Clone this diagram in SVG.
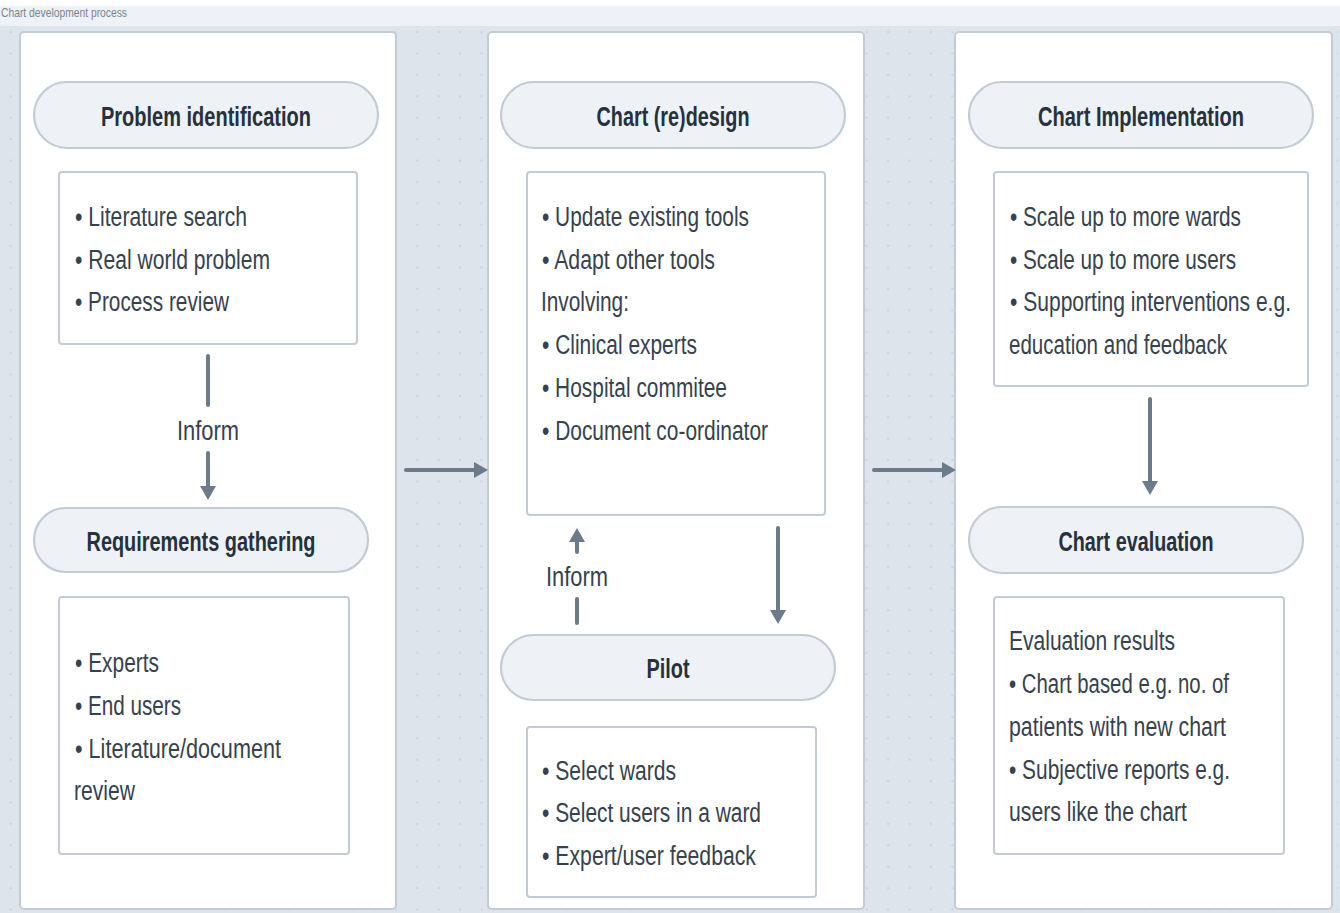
<svg xmlns="http://www.w3.org/2000/svg" width="1340" height="913" viewBox="0 0 1340 913">
<defs>
<pattern id="dots" x="0" y="0" width="21.4" height="21.4" patternUnits="userSpaceOnUse">
<rect x="10" y="10" width="1.4" height="1.4" fill="#b9c3ce"/>
</pattern>
<marker id="ah" viewBox="0 0 14 16" refX="2" refY="8" markerWidth="14" markerHeight="16" markerUnits="userSpaceOnUse" orient="auto">
<path d="M0,0 L14,8 L0,16 z" fill="#6b7b8a"/>
</marker>
<style>
.panel{fill:#ffffff;stroke:#c3ccd6;stroke-width:2}
.pill{fill:#eef2f6;stroke:#c3ccd6;stroke-width:2.2}
.box{fill:#ffffff;stroke:#c3ccd6;stroke-width:2}
.t{font-family:"Liberation Sans Narrow","Liberation Sans",Arial,sans-serif;font-size:27px;fill:#36424d}
.h{font-family:"Liberation Sans Narrow","Liberation Sans",Arial,sans-serif;font-size:27px;font-weight:bold;fill:#25313c;text-anchor:middle}
.c{stroke:#6b7b8a;stroke-width:4;stroke-linecap:round;fill:none}
</style>
</defs>
<rect x="0" y="0" width="1340" height="913" fill="#dee4eb"/>
<rect x="0" y="0" width="1340" height="913" fill="url(#dots)"/>
<rect x="0" y="0" width="1340" height="6" fill="#ffffff"/>
<rect x="0" y="6" width="1340" height="20" fill="#eef1f5"/>
<text x="1" y="17" font-family="Liberation Sans Narrow,Liberation Sans,Arial,sans-serif" font-size="13" fill="#7a8590" textLength="126" lengthAdjust="spacingAndGlyphs">Chart development process</text>

<g id="panel1"><rect class="panel" x="20" y="32" width="376" height="877" rx="4"/></g>
<g id="panel2"><rect class="panel" x="488" y="32" width="376" height="877" rx="4"/></g>
<g id="panel3"><rect class="panel" x="955" y="32" width="377" height="877" rx="4"/></g>

<g id="problem-identification">
<rect class="pill" x="34" y="82" width="344" height="66" rx="33"/>
<text class="h" x="206" y="126" textLength="210" lengthAdjust="spacingAndGlyphs">Problem identification</text>
</g>
<g id="problem-box">
<rect class="box" x="59" y="172" width="298" height="172" rx="3"/>
<text class="t" x="75" y="226" textLength="172" lengthAdjust="spacingAndGlyphs">• Literature search</text>
<text class="t" x="75" y="269" textLength="195" lengthAdjust="spacingAndGlyphs">• Real world problem</text>
<text class="t" x="75" y="311" textLength="154" lengthAdjust="spacingAndGlyphs">• Process review</text>
</g>
<g id="requirements-gathering">
<rect class="pill" x="34" y="508" width="334" height="64" rx="32"/>
<text class="h" x="201" y="551" textLength="229" lengthAdjust="spacingAndGlyphs">Requirements gathering</text>
</g>
<g id="requirements-box">
<rect class="box" x="59" y="597" width="290" height="257" rx="3"/>
<text class="t" x="75" y="672" textLength="84" lengthAdjust="spacingAndGlyphs">• Experts</text>
<text class="t" x="75" y="715" textLength="106" lengthAdjust="spacingAndGlyphs">• End users</text>
<text class="t" x="75" y="758" textLength="206" lengthAdjust="spacingAndGlyphs">• Literature/document</text>
<text class="t" x="74" y="800" textLength="61" lengthAdjust="spacingAndGlyphs">review</text>
</g>

<g id="chart-redesign">
<rect class="pill" x="501" y="82" width="344" height="66" rx="33"/>
<text class="h" x="673" y="126" textLength="153" lengthAdjust="spacingAndGlyphs">Chart (re)design</text>
</g>
<g id="redesign-box">
<rect class="box" x="527" y="172" width="298" height="343" rx="3"/>
<text class="t" x="542" y="226" textLength="207" lengthAdjust="spacingAndGlyphs">• Update existing tools</text>
<text class="t" x="542" y="269" textLength="173" lengthAdjust="spacingAndGlyphs">• Adapt other tools</text>
<text class="t" x="541" y="311" textLength="88" lengthAdjust="spacingAndGlyphs">Involving:</text>
<text class="t" x="542" y="354" textLength="155" lengthAdjust="spacingAndGlyphs">• Clinical experts</text>
<text class="t" x="542" y="397" textLength="185" lengthAdjust="spacingAndGlyphs">• Hospital commitee</text>
<text class="t" x="542" y="440" textLength="226" lengthAdjust="spacingAndGlyphs">• Document co-ordinator</text>
</g>
<g id="pilot">
<rect class="pill" x="501" y="635" width="334" height="65" rx="32.5"/>
<text class="h" x="668" y="678" textLength="43" lengthAdjust="spacingAndGlyphs">Pilot</text>
</g>
<g id="pilot-box">
<rect class="box" x="527" y="727" width="289" height="170" rx="3"/>
<text class="t" x="542" y="780" textLength="134" lengthAdjust="spacingAndGlyphs">• Select wards</text>
<text class="t" x="542" y="822" textLength="219" lengthAdjust="spacingAndGlyphs">• Select users in a ward</text>
<text class="t" x="542" y="865" textLength="214" lengthAdjust="spacingAndGlyphs">• Expert/user feedback</text>
</g>

<g id="chart-implementation">
<rect class="pill" x="969" y="82" width="344" height="66" rx="33"/>
<text class="h" x="1141" y="126" textLength="206" lengthAdjust="spacingAndGlyphs">Chart Implementation</text>
</g>
<g id="implementation-box">
<rect class="box" x="994" y="172" width="314" height="214" rx="3"/>
<text class="t" x="1010" y="226" textLength="231" lengthAdjust="spacingAndGlyphs">• Scale up to more wards</text>
<text class="t" x="1010" y="269" textLength="226" lengthAdjust="spacingAndGlyphs">• Scale up to more users</text>
<text class="t" x="1010" y="311" textLength="281" lengthAdjust="spacingAndGlyphs">• Supporting interventions e.g.</text>
<text class="t" x="1009" y="354" textLength="218" lengthAdjust="spacingAndGlyphs">education and feedback</text>
</g>
<g id="chart-evaluation">
<rect class="pill" x="969" y="507" width="334" height="66" rx="33"/>
<text class="h" x="1136" y="551" textLength="155" lengthAdjust="spacingAndGlyphs">Chart evaluation</text>
</g>
<g id="evaluation-box">
<rect class="box" x="994" y="597" width="290" height="257" rx="3"/>
<text class="t" x="1009" y="650" textLength="166" lengthAdjust="spacingAndGlyphs">Evaluation results</text>
<text class="t" x="1009" y="693" textLength="220" lengthAdjust="spacingAndGlyphs">• Chart based e.g. no. of</text>
<text class="t" x="1009" y="736" textLength="217" lengthAdjust="spacingAndGlyphs">patients with new chart</text>
<text class="t" x="1009" y="779" textLength="221" lengthAdjust="spacingAndGlyphs">• Subjective reports e.g.</text>
<text class="t" x="1009" y="821" textLength="178" lengthAdjust="spacingAndGlyphs">users like the chart</text>
</g>

<g id="connectors">
<line class="c" x1="208" y1="356" x2="208" y2="405"/>
<line class="c" x1="208" y1="453" x2="208" y2="488" marker-end="url(#ah)"/>
<text class="t" x="177" y="440" textLength="62" lengthAdjust="spacingAndGlyphs">Inform</text>
<line class="c" x1="406" y1="470" x2="476" y2="470" marker-end="url(#ah)"/>
<line class="c" x1="874" y1="470" x2="944" y2="470" marker-end="url(#ah)"/>
<line class="c" x1="577" y1="552" x2="577" y2="540" marker-end="url(#ah)"/>
<text class="t" x="546" y="586" textLength="62" lengthAdjust="spacingAndGlyphs">Inform</text>
<line class="c" x1="577" y1="599" x2="577" y2="623"/>
<line class="c" x1="778" y1="528" x2="778" y2="612" marker-end="url(#ah)"/>
<line class="c" x1="1150" y1="399" x2="1150" y2="483" marker-end="url(#ah)"/>
</g>
</svg>
